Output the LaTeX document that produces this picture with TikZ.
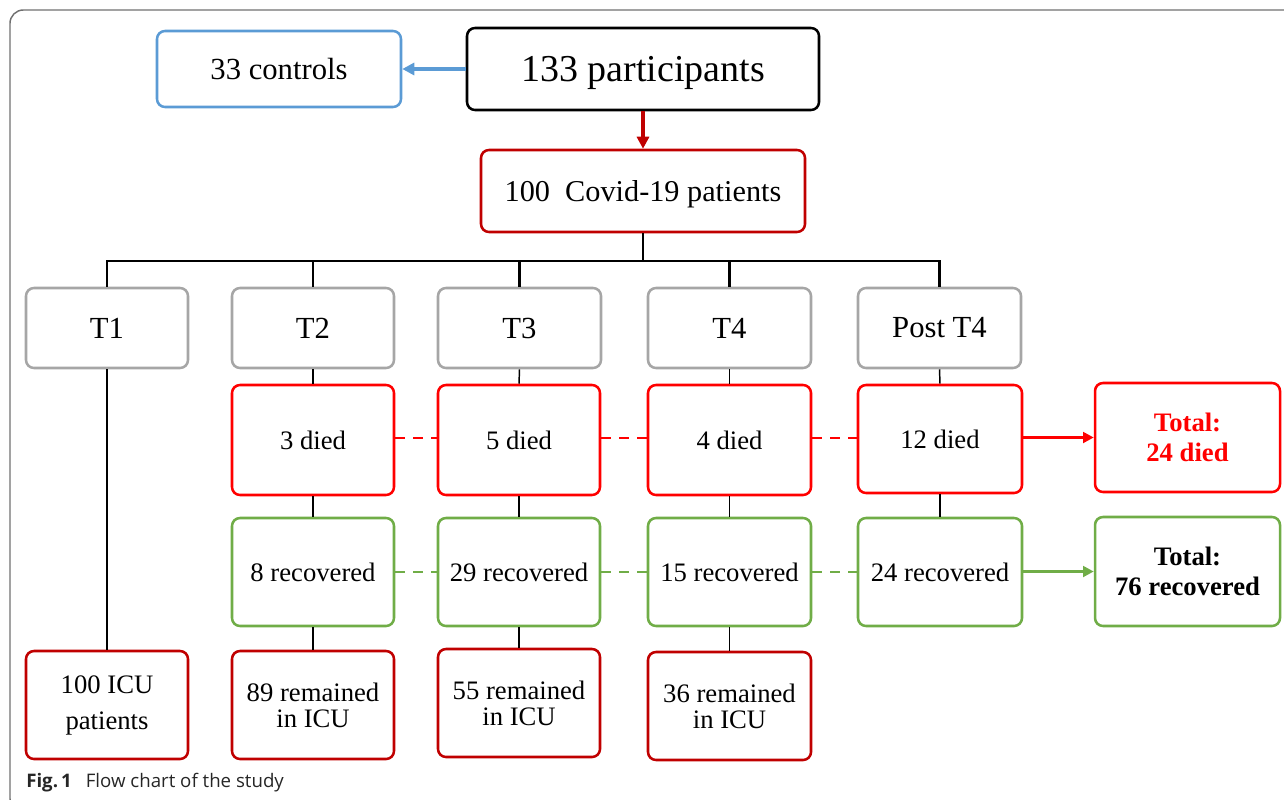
\documentclass[tikz,border=0pt]{standalone}
\usepackage{fontspec}
\setmainfont{Liberation Serif}
\newfontfamily\capfont{Open Sans}
\usetikzlibrary{arrows.meta}
\definecolor{cblue}{HTML}{5B9BD5}
\definecolor{dred}{HTML}{C00000}
\definecolor{bred}{HTML}{FF0000}
\definecolor{cgreen}{HTML}{70AD47}
\definecolor{cgray}{HTML}{A6A6A6}
\definecolor{framegray}{HTML}{707070}
\tikzset{
  box/.style={draw=#1, line width=1.9pt, rounded corners=6pt, inner sep=0pt, align=center, fill=white},
  tbox/.style={box=cgray, minimum width=162*0.75pt, minimum height=80*0.75pt, font=\fontsize{23}{27}\selectfont},
  cbox/.style={font=\fontsize{20}{24}\selectfont},
  conn/.style={line width=1.1pt, black},
  bus/.style={line width=1.9pt, black},
  dash red/.style={line width=1.5pt, bred, dash pattern=on 7.5pt off 6pt},
  dash green/.style={line width=1.5pt, cgreen, dash pattern=on 7.5pt off 6pt},
}
\begin{document}
\begin{tikzpicture}[x=0.75pt,y=-0.75pt]
\clip (0,0) rectangle (1284,799);
\draw[framegray, line width=1.1pt, rounded corners=10pt] (10,10) rectangle (1340,812);

% top
\node[box=cblue, minimum width=244*0.75pt, minimum height=76*0.75pt, font=\fontsize{23}{27}\selectfont] (ctrl) at (279,69) {33 controls};
\node[box=black, minimum width=352*0.75pt, minimum height=82*0.75pt, text depth=0pt, font=\fontsize{28.5}{33}\selectfont] (part) at (643,69) {133 participants};
\node[box=dred, minimum width=324*0.75pt, minimum height=82*0.75pt, text depth=0pt, font=\fontsize{22.7}{27}\selectfont] (covid) at (643,191) {100\ \ Covid-19 patients};
\draw[cblue, line width=2.3pt, -{Triangle[length=9pt,width=9pt]}] (part.west) -- (ctrl.east);
\draw[dred, line width=2.3pt, -{Triangle[length=9pt,width=9pt]}] (part.south) -- (covid.north);

% T row
\node[tbox] (T1) at (107,328) {T1};
\node[tbox] (T2) at (313,328) {T2};
\node[tbox, minimum width=163*0.75pt] (T3) at (519.5,328) {T3};
\node[tbox, minimum width=163*0.75pt] (T4) at (729.5,328) {T4};
\node[tbox, minimum width=163*0.75pt] (T5) at (939.5,328) {Post T4};

\coordinate (busc) at (643,261);
\draw[bus] (covid.south) -- (busc);
\draw[bus] (T1.north) |- (busc) -| (T5.north);
\draw[bus] (T2.north) -- (T2.north |- busc);
\draw[bus] (T3.north) -- (T3.north |- busc);
\draw[bus] (T4.north) -- (T4.north |- busc);

% died row
\node[box=bred, cbox, minimum width=162*0.75pt, minimum height=110*0.75pt] (D2) at (313,440) {3 died};
\node[box=bred, cbox, minimum width=162*0.75pt, minimum height=110*0.75pt] (D3) at (519,440) {5 died};
\node[box=bred, cbox, minimum width=163*0.75pt, minimum height=110*0.75pt] (D4) at (729.5,440) {4 died};
\node[box=bred, cbox, minimum width=164*0.75pt, minimum height=108*0.75pt] (D5) at (940,439) {12 died};

% recovered row
\node[box=cgreen, cbox, minimum width=162*0.75pt, minimum height=108*0.75pt] (R2) at (313,572) {8 recovered};
\node[box=cgreen, cbox, minimum width=162*0.75pt, minimum height=108*0.75pt] (R3) at (519,572) {29 recovered};
\node[box=cgreen, cbox, minimum width=163*0.75pt, minimum height=108*0.75pt] (R4) at (729.5,572) {15 recovered};
\node[box=cgreen, cbox, minimum width=164*0.75pt, minimum height=108*0.75pt] (R5) at (940,572) {24 recovered};

% remained row
\node[box=dred, cbox, minimum width=162*0.75pt, minimum height=108*0.75pt, font=\fontsize{20}{27}\selectfont] (M1) at (107,705) {100 ICU\\patients};
\node[box=dred, cbox, minimum width=162*0.75pt, minimum height=108*0.75pt, font=\fontsize{20}{19.5}\selectfont] (M2) at (313,705) {89 remained\\in ICU};
\node[box=dred, cbox, minimum width=162*0.75pt, minimum height=108*0.75pt, font=\fontsize{20}{19.5}\selectfont] (M3) at (519,703) {55 remained\\in ICU};
\node[box=dred, cbox, minimum width=163*0.75pt, minimum height=108*0.75pt, font=\fontsize{20}{19.5}\selectfont] (M4) at (729.5,706) {36 remained\\in ICU};

% totals
\node[box=bred, minimum width=185*0.75pt, minimum height=109*0.75pt, font=\fontsize{20}{23}\selectfont\bfseries, text=bred] (TD) at (1187.5,437.5) {Total:\\24 died};
\node[box=cgreen, minimum width=185*0.75pt, minimum height=109*0.75pt, font=\fontsize{20}{23}\selectfont\bfseries] (TR) at (1187.5,571.5) {Total:\\76 recovered};

% vertical connectors
\draw[conn] (T1.south) -- (M1.north);
\draw[conn] (T2.south) -- (D2.north);
\draw[conn] (T3.south) -- (D3.north);
\draw[conn] (T4.south) -- (D4.north);
\draw[conn] (T5.south) -- (D5.north);
\draw[conn] (D2.south) -- (R2.north);
\draw[conn] (D3.south) -- (R3.north);
\draw[conn] (D4.south) -- (R4.north);
\draw[conn] (D5.south) -- (R5.north);
\draw[conn] (R2.south) -- (M2.north);
\draw[conn] (R3.south) -- (M3.north);
\draw[conn] (R4.south) -- (M4.north);

% dashed links
\draw[dash red] (D2.east |- 0,438) -- (D3.west |- 0,438);
\draw[dash red] (D3.east |- 0,438) -- (D4.west |- 0,438);
\draw[dash red] (D4.east |- 0,438) -- (D5.west |- 0,438);
\draw[dash green] (R2.east) -- (R3.west);
\draw[dash green] (R3.east) -- (R4.west);
\draw[dash green] (R4.east) -- (R5.west);

% arrows to totals
\draw[bred, line width=2.3pt, -{Triangle[length=8pt,width=8pt]}] (D5.east |- TD.west) -- (TD.west);
\draw[cgreen, line width=2.3pt, -{Triangle[length=8pt,width=8pt]}] (R5.east |- TR.west) -- (TR.west);

% caption
\node[anchor=base west, inner sep=0pt, font=\capfont\fontsize{14}{16}\selectfont, text=black!85] (cap) at (26,787) {\textbf{Fig.\,1}\hspace{0.75em}Flow chart of the study};
\end{tikzpicture}
\end{document}
